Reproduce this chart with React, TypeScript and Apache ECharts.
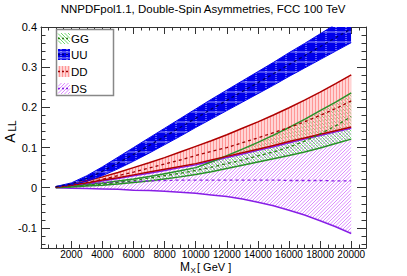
import React, { useEffect, useRef } from 'react';
import * as echarts from 'echarts';

// ---- data ----
const MASS = [1000, 2000, 3000, 4000, 5000, 6000, 7000, 8000, 9000, 10000,
  11000, 12000, 13000, 14000, 15000, 16000, 17000, 18000, 19000, 20000];

const GG_UPPER = [0.001, 0.004, 0.008, 0.012, 0.017, 0.022, 0.028, 0.035, 0.042, 0.05,
  0.064, 0.08, 0.096, 0.113, 0.131, 0.15, 0.17, 0.192, 0.213, 0.236];
const GG_CENTER = [0.001, 0.003, 0.006, 0.009, 0.013, 0.018, 0.024, 0.03, 0.036, 0.043,
  0.051, 0.06, 0.069, 0.079, 0.089, 0.101, 0.116, 0.134, 0.154, 0.177];
const GG_LOWER = [0.0, 0.002, 0.004, 0.006, 0.009, 0.013, 0.017, 0.022, 0.027, 0.033,
  0.04, 0.048, 0.056, 0.064, 0.072, 0.08, 0.089, 0.099, 0.11, 0.121];

const UU_UPPER = [0.003, 0.012, 0.03, 0.052, 0.076, 0.1, 0.124, 0.148, 0.172, 0.196,
  0.22, 0.243, 0.266, 0.289, 0.312, 0.336, 0.359, 0.383, 0.407, 0.43];
const UU_CENTER = [0.0025, 0.0095, 0.023, 0.041, 0.0615, 0.083, 0.105, 0.1275, 0.15, 0.173,
  0.1955, 0.2175, 0.2395, 0.2615, 0.2835, 0.3065, 0.3285, 0.351, 0.3735, 0.3955];
const UU_LOWER = [0.002, 0.007, 0.016, 0.03, 0.047, 0.066, 0.086, 0.107, 0.128, 0.15,
  0.171, 0.192, 0.213, 0.234, 0.255, 0.277, 0.298, 0.319, 0.34, 0.361];

const DD_UPPER = [0.002, 0.007, 0.017, 0.027, 0.038, 0.05, 0.062, 0.075, 0.089, 0.103,
  0.117, 0.132, 0.148, 0.164, 0.181, 0.199, 0.218, 0.238, 0.259, 0.281];
const DD_CENTER = [0.001, 0.006, 0.013, 0.021, 0.03, 0.039, 0.049, 0.059, 0.069, 0.08,
  0.09, 0.1, 0.112, 0.124, 0.137, 0.15, 0.164, 0.18, 0.197, 0.216];
const DD_LOWER = [0.001, 0.006, 0.012, 0.019, 0.025, 0.032, 0.039, 0.046, 0.053, 0.06,
  0.069, 0.078, 0.087, 0.096, 0.105, 0.115, 0.124, 0.133, 0.142, 0.151];

const DS_UPPER = [0.001, 0.005, 0.01, 0.017, 0.023, 0.03, 0.036, 0.043, 0.05, 0.057,
  0.066, 0.075, 0.084, 0.093, 0.102, 0.112, 0.121, 0.13, 0.139, 0.148];
const DS_CENTER = [0.001, 0.005, 0.009, 0.012, 0.014, 0.016, 0.017, 0.018, 0.019, 0.019,
  0.019, 0.019, 0.019, 0.019, 0.019, 0.018, 0.018, 0.018, 0.017, 0.017];
const DS_LOWER = [0.0, -0.001, -0.002, -0.003, -0.004, -0.006, -0.007, -0.009, -0.011, -0.014,
  -0.018, -0.022, -0.028, -0.036, -0.045, -0.056, -0.068, -0.082, -0.097, -0.114];

const X_TICKS = [2000, 4000, 6000, 8000, 10000, 12000, 14000, 16000, 18000, 20000];
const Y_TICKS = [-0.1, 0, 0.1, 0.2, 0.3, 0.4];
const X_RANGE = [50, 20950];
const Y_RANGE = [-0.15, 0.4];

const FONT = 'Liberation Sans, Arial, Helvetica, sans-serif';
const FRAME = '#333';

type Hatch = { dir: 'v' | 'h' | 'back' | 'fwd'; step: number; color: string; width: number; dash?: number[] };

// segments of a hatch family inside a rectangle (anchored to the rectangle origin)
function hatchSegments(x: number, y: number, w: number, h: number, hs: Hatch): number[][] {
  const out: number[][] = [];
  const s = hs.step;
  if (hs.dir === 'v') {
    for (let xx = x + s / 2; xx <= x + w; xx += s) out.push([xx, y, xx, y + h]);
  } else if (hs.dir === 'h') {
    for (let yy = y + s / 2; yy <= y + h; yy += s) out.push([x, yy, x + w, yy]);
  } else if (hs.dir === 'back') {
    for (let c = -h; c <= w; c += s) {
      const sx = c >= 0 ? x + c : x;
      const sy = c >= 0 ? y : y - c;
      const t = Math.min(x + w - sx, y + h - sy);
      out.push([sx, sy, sx + t, sy + t]);
    }
  } else {
    for (let c = 0; c <= w + h; c += s) {
      const sx = c <= w ? x + c : x + w;
      const sy = c <= w ? y : y + c - w;
      const t = Math.min(sx - x, y + h - sy);
      out.push([sx, sy, sx - t, sy + t]);
    }
  }
  return out;
}

function hatchElements(x: number, y: number, w: number, h: number, hatches: Hatch[], z2 = 0) {
  const els: any[] = [];
  hatches.forEach((hs) => {
    hatchSegments(x, y, w, h, hs).forEach((sg) => {
      els.push({
        type: 'line', silent: true, z2,
        shape: { x1: sg[0], y1: sg[1], x2: sg[2], y2: sg[3] },
        style: { stroke: hs.color, fill: null, lineWidth: hs.width, lineDash: hs.dash || null },
      });
    });
  });
  return els;
}

export default function App() {
  const ref = useRef<HTMLDivElement>(null);
  useEffect(() => {
    const chart = echarts.init(ref.current!, null, { renderer: 'svg' });

    const pts = (arr: number[]) => MASS.map((m, i) => [m, arr[i]]);

    const minorX: number[] = [];
    for (let v = 500; v <= 20500; v += 500) minorX.push(v);
    const minorY: number[] = [];
    for (let k = -7; k <= 20; k++) minorY.push(Math.round(k * 0.02 * 1000) / 1000);

    const GG_HATCH: Hatch[] = [{ dir: 'back', step: 3.5, color: 'rgb(110,215,110)', width: 1 }];
    const DS_HATCH: Hatch[] = [{ dir: 'fwd', step: 3.5, color: 'rgb(220,140,255)', width: 1 }];
    const DD_HATCH: Hatch[] = [{ dir: 'v', step: 3, color: 'rgb(255,150,150)', width: 1.8 }];
    const UU_HATCH: Hatch[] = [
      { dir: 'v', step: 10, color: 'rgba(255,255,255,0.75)', width: 1, dash: [1, 1] },
      { dir: 'h', step: 10, color: 'rgba(255,255,255,0.6)', width: 1 },
    ];

    const bands = [
      { name: 'DS', lo: DS_LOWER, up: DS_UPPER, c: DS_CENTER, base: null, hatch: DS_HATCH, hc: 'rgb(220,140,255)', line: 'rgb(135,30,230)', dash: 'rgb(135,30,230)', lw: 1.5 },
      { name: 'GG', lo: GG_LOWER, up: GG_UPPER, c: GG_CENTER, base: null, hatch: GG_HATCH, hc: 'rgb(110,215,110)', line: 'rgb(40,145,40)', dash: 'rgb(40,130,20)', lw: 1.5 },
      { name: 'DD', lo: DD_LOWER, up: DD_UPPER, c: DD_CENTER, base: null, hatch: DD_HATCH, hc: 'rgb(255,150,150)', line: 'rgb(175,0,0)', dash: 'rgb(160,0,0)', lw: 1.5 },
      { name: 'UU', lo: UU_LOWER, up: UU_UPPER, c: UU_CENTER, base: 'rgb(0,0,235)', hatch: UU_HATCH, hc: 'rgba(255,255,255,0.7)', line: 'rgb(0,0,235)', dash: 'rgb(0,0,110)', lw: 1 },
    ];

    const series: any[] = [];
    bands.forEach((b) => {
      series.push({
        type: 'custom', name: b.name + '_band', silent: true, z: 1,
        itemStyle: { color: b.hc },
        data: [[MASS[0], b.lo[0]]],
        renderItem: (params: any, api: any) => {
          const upper = b.up.map((v, i) => api.coord([MASS[i], v]));
          const lower = b.lo.map((v, i) => api.coord([MASS[i], v])).reverse();
          const poly = upper.concat(lower);
          const cs = params.coordSys;
          const children: any[] = [];
          if (b.base) children.push({ type: 'polygon', shape: { points: poly }, style: { fill: b.base, stroke: null } });
          children.push(...hatchElements(cs.x, cs.y, cs.width, cs.height, b.hatch, 1));
          return {
            type: 'group',
            clipPath: { type: 'rect', shape: { x: cs.x, y: cs.y, width: cs.width, height: cs.height } },
            children: [{
              type: 'group',
              clipPath: { type: 'polygon', shape: { points: poly } },
              children,
            }],
          };
        },
      });
    });
    bands.forEach((b) => {
      series.push({
        type: 'line', name: b.name + '_lo', data: pts(b.lo), symbol: 'none', z: 3,
        lineStyle: { color: b.line, width: b.lw },
      });
      series.push({
        type: 'line', name: b.name + '_up', data: pts(b.up), symbol: 'none', z: 3,
        lineStyle: { color: b.line, width: b.lw },
      });
      series.push({
        type: 'line', name: b.name + '_c', data: pts(b.c), symbol: 'none', z: 4,
        lineStyle: { color: b.dash, width: 1.3, type: [3, 3] },
      });
    });

    const mkX = (position: string, major: boolean, labels: boolean) => ({
      type: 'value', position, min: X_RANGE[0], max: X_RANGE[1],
      axisLine: { show: major, onZero: false, lineStyle: { color: FRAME, width: 1 } },
      axisTick: { show: true, inside: true, length: major ? 7 : 3.5, customValues: major ? X_TICKS : minorX, lineStyle: { color: FRAME, width: 1 } },
      axisLabel: labels ? { show: true, customValues: X_TICKS, fontSize: 10, color: '#000', fontFamily: FONT, margin: 1, formatter: (v: number) => String(v) } : { show: false },
      splitLine: { show: false },
    });
    const mkY = (position: string, major: boolean, labels: boolean) => ({
      type: 'value', position, min: Y_RANGE[0], max: Y_RANGE[1],
      axisLine: { show: major, onZero: false, lineStyle: { color: FRAME, width: 1 } },
      axisTick: { show: true, inside: true, length: major ? 9 : 4.5, customValues: major ? Y_TICKS : minorY, lineStyle: { color: FRAME, width: 1 } },
      axisLabel: labels ? { show: true, customValues: Y_TICKS, fontSize: 11, color: '#000', fontFamily: FONT, margin: 4, formatter: (v: number) => String(v) } : { show: false },
      splitLine: { show: false },
    });

    const legendItems = [
      { label: 'GG', base: null, hatch: GG_HATCH, dash: 'rgb(40,130,20)', y: 33 },
      { label: 'UU', base: 'rgb(0,0,235)', hatch: [{ dir: 'v', step: 6, color: 'rgba(255,255,255,0.75)', width: 1, dash: [1, 1] }, { dir: 'h', step: 6, color: 'rgba(255,255,255,0.6)', width: 1 }] as Hatch[], dash: 'rgb(0,0,110)', y: 49 },
      { label: 'DD', base: null, hatch: DD_HATCH, dash: 'rgb(160,0,0)', y: 66 },
      { label: 'DS', base: null, hatch: DS_HATCH, dash: 'rgb(135,30,230)', y: 83 },
    ];
    const graphic: any[] = [
      { type: 'text', left: 'center', top: 3, style: { text: 'NNPDFpol1.1, Double-Spin Asymmetries, FCC 100 TeV', fontSize: 11.5, fontFamily: FONT, fill: '#000' } },
      { type: 'rect', shape: { x: 56.5, y: 29.5, width: 57, height: 66 }, style: { fill: '#fff', stroke: '#888', lineWidth: 1.5 }, z: 10 },
      { type: 'text', x: 10, y: 138, rotation: Math.PI / 2, style: { text: 'A', fontSize: 14, fontFamily: FONT, fill: '#000', align: 'center', verticalAlign: 'middle' }, z: 10 },
      { type: 'text', x: 12.5, y: 126, rotation: Math.PI / 2, style: { text: 'LL', fontSize: 10, fontFamily: FONT, fill: '#000', align: 'center', verticalAlign: 'middle' }, z: 10 },
      { type: 'text', x: 180, y: 267, style: { text: 'M', fontSize: 12, fontFamily: FONT, fill: '#000', align: 'left', verticalAlign: 'middle' }, z: 10 },
      { type: 'text', x: 190.5, y: 270.5, style: { text: 'X', fontSize: 8, fontFamily: FONT, fill: '#000', align: 'left', verticalAlign: 'middle' }, z: 10 },
      { type: 'text', x: 197, y: 267, style: { text: '[ GeV ]', fontSize: 11, fontFamily: FONT, fill: '#000', align: 'left', verticalAlign: 'middle' }, z: 10 },
    ];
    legendItems.forEach((it) => {
      const sx = 58, sw = 12, sh = 11;
      if (it.base) graphic.push({ type: 'rect', shape: { x: sx, y: it.y, width: sw, height: sh }, style: { fill: it.base }, z: 11 });
      hatchElements(sx, it.y, sw, sh, it.hatch).forEach((el) => { el.z = 11; graphic.push(el); });
      graphic.push({ type: 'line', shape: { x1: sx, y1: it.y + 5.5, x2: sx + sw, y2: it.y + 5.5 }, style: { stroke: it.dash, lineWidth: 1.3, lineDash: [2, 2] }, z: 12 });
      graphic.push({ type: 'text', x: 71, y: it.y + 6, style: { text: it.label, fontSize: 11.5, fontFamily: FONT, fill: '#000', align: 'left', verticalAlign: 'middle' }, z: 12 });
    });

    chart.setOption({
      animation: false,
      backgroundColor: '#fff',
      grid: { left: 41, right: 41, top: 27, bottom: 28, containLabel: false, outerBoundsMode: 'none' },
      xAxis: [mkX('bottom', true, true), mkX('bottom', false, false), mkX('top', true, false), mkX('top', false, false)],
      yAxis: [mkY('left', true, true), mkY('left', false, false), mkY('right', true, false), mkY('right', false, false)],
      series,
      graphic,
    } as any);
    return () => chart.dispose();
  }, []);
  return <div ref={ref} style={{ position: 'fixed', left: 0, top: 0, width: 407, height: 276 }} />;
}
